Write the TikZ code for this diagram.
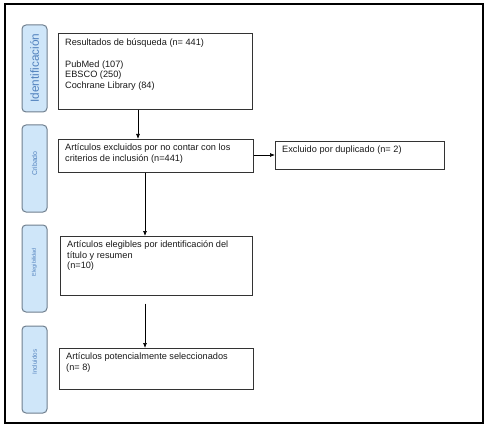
\documentclass[tikz,border=0pt]{standalone}
\usepackage{fontspec}
\setmainfont{Liberation Sans}
\usetikzlibrary{arrows.meta}
\definecolor{tabfill}{HTML}{CFE6F9}
\definecolor{tabdraw}{HTML}{6F7F8E}
\definecolor{tabtext}{HTML}{5282BE}
\tikzset{
  frame/.style={draw=black, line width=1.1pt},
  tabbox/.style={draw=tabdraw, fill=tabfill, line width=1pt, rounded corners=4pt},
  tabtxt/.style={text=tabtext, rotate=90, inner sep=0pt},
  box/.style={draw=black!80, line width=0.7pt, inner sep=0pt, anchor=north west},
  boxtxt/.style={anchor=north west, align=left, inner sep=0pt, text=black!90, font=\fontsize{9.2}{10.6}\selectfont},
  conn/.style={line width=0.7pt, -{Latex[length=5pt,width=4pt]}}
}
\begin{document}
\begin{tikzpicture}[x=1pt,y=-1pt]
\useasboundingbox (0,0) rectangle (489,430);
\draw[frame] (5,4) rectangle (483,423);
% tabs
\draw[tabbox] (22,25) rectangle (47,112);
\node[tabtxt, font=\fontsize{11.8}{13}\selectfont] (t1) at (34.5,68) {Identificación};
\draw[tabbox] (22,125) rectangle (47,212);
\node[tabtxt, font=\fontsize{7}{8}\selectfont] (t2) at (34.5,163.5) {Cribado};
\draw[tabbox] (22,225) rectangle (47,312);
\node[tabtxt, font=\fontsize{5.5}{6}\selectfont] (t3) at (34.5,262) {Elegibilidad};
\draw[tabbox] (22,326) rectangle (47,413);
\node[tabtxt, font=\fontsize{6.3}{7}\selectfont] (t4) at (34.5,362) {Incluidos};
% boxes
\node[box, minimum width=194pt, minimum height=76pt] (b1) at (58,33) {};
\node[boxtxt] (l1) at (65,39) {Resultados de búsqueda (n= 441)\\[10.6pt]PubMed (107)\\EBSCO (250)\\Cochrane Library (84)};
\node[box, minimum width=195pt, minimum height=33pt] (b2) at (58,139) {};
\node[boxtxt] (l2) at (65,143.5) {Artículos excluidos por no contar con los\\criterios de inclusión (n=441)};
\node[box, minimum width=169pt, minimum height=28pt] (b3) at (275,141) {};
\node[boxtxt] (l3) at (282,145.5) {Excluido por duplicado (n= 2)};
\node[box, minimum width=192pt, minimum height=59pt] (b4) at (60,236) {};
\node[boxtxt] (l4) at (67,240.5) {Artículos elegibles por identificación del\\título y resumen\\(n=10)};
\node[box, minimum width=194pt, minimum height=41pt] (b5) at (59,348) {};
\node[boxtxt] (l5) at (66,352.5) {Artículos potencialmente seleccionados\\(n= 8)};
% connectors
\draw[conn] (b1.south -| 138,0) -- (b2.north -| 138,0);
\draw[conn] (b2.east |- 0,155) -- (b3.west |- 0,155);
\draw[conn] (b2.south -| 145,0) -- (b4.north -| 145,0);
\draw[conn, shorten <=8pt] (b4.south -| 145,0) -- (b5.north -| 145,0);
\end{tikzpicture}
\end{document}
